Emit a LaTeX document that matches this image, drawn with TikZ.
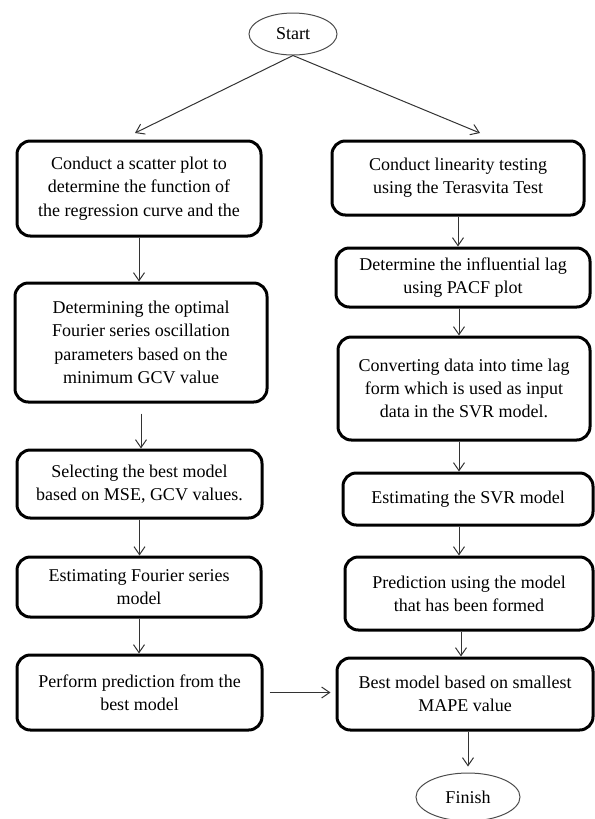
\documentclass[tikz,border=0pt]{standalone}
\usepackage{fontspec}
\setmainfont{Liberation Serif}
\usetikzlibrary{shapes.geometric,arrows.meta}

\begin{document}
\begin{tikzpicture}[x=0.75pt,y=0.75pt,yscale=-1,
  box/.style={draw,line width=2.25pt,rounded corners=10pt,align=center,inner sep=2pt,font=\fontsize{13.5}{17.5}\selectfont},
  term/.style={draw=black!70,line width=0.75pt,ellipse,inner sep=0pt,font=\fontsize{13.5}{17.5}\selectfont},
  flow/.style={draw=black!80,line width=0.75pt,-{Straight Barb[length=6pt,width=8.25pt]}}]
%set diagram left start at 0, and has height of 819
\useasboundingbox (0,0) rectangle (595,819);

%Shape: Ellipse [id:start]
\node[term,minimum width=66pt,minimum height=31.5pt] (start) at (293,34) {Start};

%Rounded Rect: left column
\node[box,minimum width=183pt,minimum height=71.25pt] (scatter) at (139,188.5) {Conduct a scatter plot to\\determine the function of\\the regression curve and the};
\node[box,minimum width=189pt,minimum height=89.25pt] (oscil) at (141,342.5) {Determining the optimal\\Fourier series oscillation\\parameters based on the\\minimum GCV value};
\node[box,minimum width=183.75pt,minimum height=51pt] (select) at (139.5,484) {Selecting the best model\\based on MSE, GCV values.};
\node[box,minimum width=183pt,minimum height=45pt] (fourier) at (139,587) {Estimating Fourier series\\model};
\node[box,minimum width=183.75pt,minimum height=56.25pt] (predf) at (139.5,692.5) {Perform prediction from the\\best model};

%Rounded Rect: right column
\node[box,minimum width=189pt,minimum height=55.5pt] (linear) at (458,178) {Conduct linearity testing\\using the Terasvita Test};
\node[box,minimum width=190.5pt,minimum height=44.25pt] (lag) at (463,277.5) {Determine the influential lag\\using PACF plot};
\node[box,minimum width=189pt,minimum height=77.25pt] (convert) at (464,388.5) {Converting data into time lag\\form which is used as input\\data in the SVR model.};
\node[box,minimum width=187.5pt,minimum height=39pt] (svr) at (468,499) {Estimating the SVR model};
\node[box,minimum width=186pt,minimum height=54.75pt] (preds) at (469,593.5) {Prediction using the model\\that has been formed};
\node[box,minimum width=192pt,minimum height=54pt] (best) at (465,694) {Best model based on smallest\\MAPE value};

%Shape: Ellipse [id:finish]
\node[term,minimum width=78pt,minimum height=36pt] (finish) at (468,797) {Finish};

%Straight Lines
\coordinate (tipL) at (135,133);
\coordinate (tipR) at (480,133);
\draw[flow] (start.south) -- (tipL);
\draw[flow] (start.south) -- (tipR);

\draw[flow] (scatter.south) -- (scatter.south |- oscil.north);
\draw[flow,shorten <=7.5pt] (oscil.south) -- (oscil.south |- select.north);
\draw[flow] (select.south) -- (select.south |- fourier.north);
\draw[flow] (fourier.south) -- (fourier.south |- predf.north);

\draw[flow] (linear.south) -- (linear.south |- lag.north);
\draw[flow] ([xshift=-3pt]lag.south) -- ([xshift=-3pt]lag.south |- convert.north);
\draw[flow] ([xshift=-3.75pt]convert.south) -- ([xshift=-3.75pt]convert.south |- svr.north);
\draw[flow] ([xshift=-6.75pt]svr.south) -- ([xshift=-6.75pt]svr.south |- preds.north);
\draw[flow] ([xshift=-6pt]preds.south) -- ([xshift=-6pt]preds.south |- best.north);

\draw[flow,shorten <=4.5pt,shorten >=3.75pt] (predf.east) -- (predf.east -| best.west);
\draw[flow,shorten >=4.5pt] (finish.north |- best.south) -- (finish.north);

\end{tikzpicture}
\end{document}
